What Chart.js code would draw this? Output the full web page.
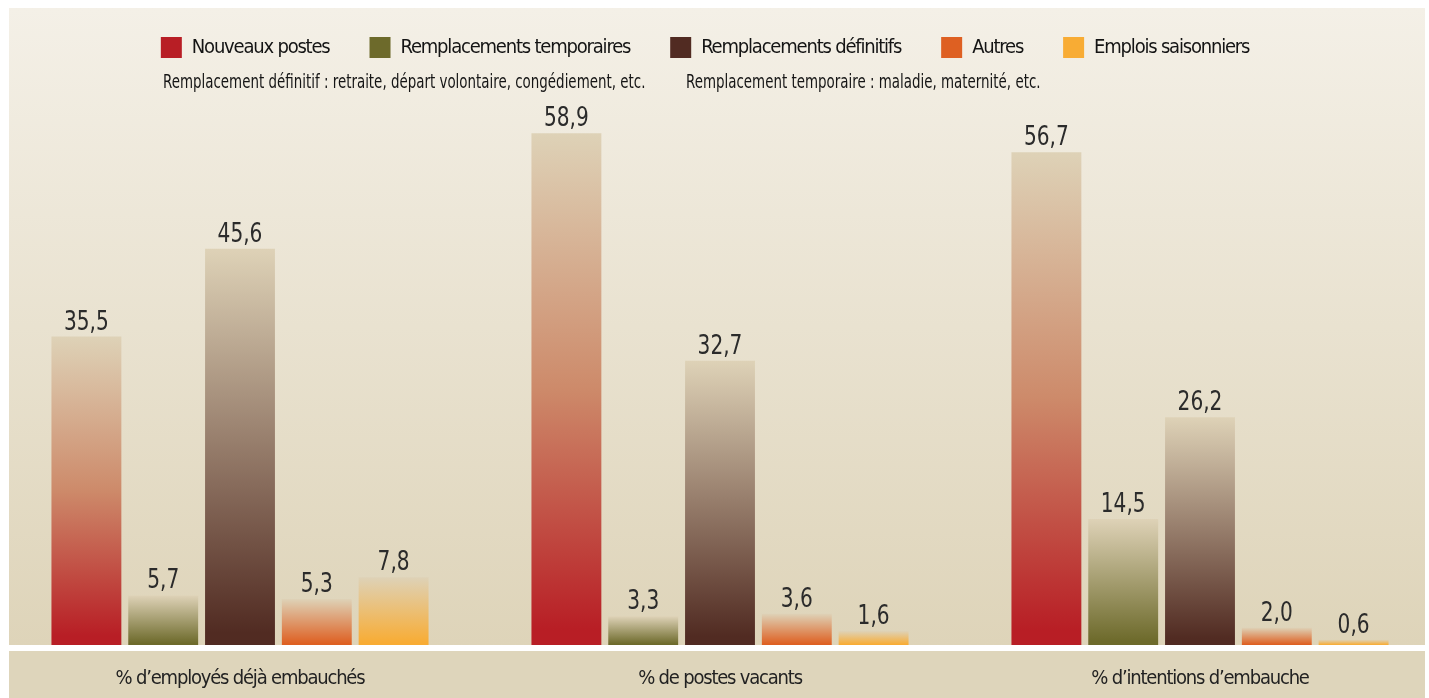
<!DOCTYPE html>
<html>
<head>
<meta charset="utf-8">
<script src="https://cdn.jsdelivr.net/npm/chart.js@4/dist/chart.umd.min.js"></script>
<style>
  html, body { margin: 0; padding: 0; background: #fff; overflow: hidden; width: 1429px; height: 698px; }
  #panel { position: absolute; left: 9px; top: 8px; width: 1416px; height: 637px; background: linear-gradient(#f4f0e7, #ded4b9); }
  #band { position: absolute; left: 9px; top: 651px; width: 1416px; height: 47px; background: #ded5bb; }
  #chart { position: absolute; left: -30px; top: -3px; }
</style>
</head>
<body>
<div id="panel"></div>
<div id="band"></div>
<canvas id="chart" width="1470" height="701"></canvas>
<script>
const FONT = "'Liberation Sans Narrow', 'DejaVu Sans Condensed', 'Arial Narrow', sans-serif";

// ---------------------------------------------
// Data
// ---------------------------------------------
const categories = ["% d’employés déjà embauchés", "% de postes vacants", "% d’intentions d’embauche"];
const seriesNames = ["Nouveaux postes", "Remplacements temporaires", "Remplacements définitifs", "Autres", "Emplois saisonniers"];
const nouveauxPostes = [35.5, 58.9, 56.7];
const remplTemporaires = [5.7, 3.3, 14.5];
const remplDefinitifs = [45.6, 32.7, 26.2];
const autres = [5.3, 3.6, 2.0];
const emploisSaisonniers = [7.8, 1.6, 0.6];
const notes = [
    "Remplacement définitif : retraite, départ volontaire, congédiement, etc.",
    "Remplacement temporaire : maladie, maternité, etc."
];

const seriesColors = ["#b81e25", "#6d6a2b", "#512b22", "#de6022", "#f8ac34"];
const midColors = ["#cd8a6a", null, null, null, null];
const topTint = "#ded2b7";

// vertical gradient per bar: beige at the top, full colour at the base
function barFill(i) {
    const color = seriesColors[i];
    return (ctx) => {
        const chart = ctx.chart;
        if (ctx.type !== "data" || !chart.chartArea) return color;
        const y = chart.scales.y;
        const top = y.getPixelForValue(ctx.raw);
        const bottom = y.getPixelForValue(0);
        if (!(bottom - top > 0)) return color;
        const g = chart.ctx.createLinearGradient(0, top, 0, bottom);
        g.addColorStop(0, topTint);
        if (midColors[i]) g.addColorStop(0.5, midColors[i]);
        g.addColorStop(0.97, color);
        g.addColorStop(1, color);
        return g;
    };
}

const allSeries = [nouveauxPostes, remplTemporaires, remplDefinitifs, autres, emploisSaisonniers];

const datasets = allSeries.map((values, i) => ({
    label: seriesNames[i],
    data: values,
    backgroundColor: barFill(i),
    borderWidth: 0,
    categoryPercentage: 0.8,
    barPercentage: 0.91
}));

// ---------------------------------------------
// Plugins
// ---------------------------------------------
// tighter letters for legend + axis labels (narrow font is not installed)
const condensedText = {
    id: "condensedText",
    beforeLayout(chart) { chart.ctx.letterSpacing = "-1.2px"; },
    beforeDraw(chart) { chart.ctx.letterSpacing = "-1.2px"; }
};

const valueLabels = {
    id: "valueLabels",
    afterDatasetsDraw(chart) {
        const ctx = chart.ctx;
        chart.data.datasets.forEach((ds, i) => {
            chart.getDatasetMeta(i).data.forEach((bar, j) => {
                const txt = ds.data[j].toFixed(1).replace(".", ",");
                ctx.save();
                ctx.letterSpacing = "0px";
                ctx.font = `26px ${FONT}`;
                ctx.fillStyle = "#2b2b2b";
                ctx.textAlign = "center";
                ctx.textBaseline = "alphabetic";
                ctx.translate(bar.x, bar.y - 7);
                ctx.scale(0.86, 1);
                ctx.fillText(txt, 0, 0);
                ctx.restore();
            });
        });
    }
};

const legendNotes = {
    id: "legendNotes",
    afterDraw(chart) {
        const ctx = chart.ctx;
        [[notes[0], 193], [notes[1], 716]].forEach(([txt, x]) => {
            ctx.save();
            ctx.letterSpacing = "0px";
            ctx.font = `19.5px ${FONT}`;
            ctx.fillStyle = "#151515";
            ctx.textBaseline = "alphabetic";
            ctx.translate(x, 91);
            ctx.scale(0.765, 1);
            ctx.fillText(txt, 0, 0);
            ctx.restore();
        });
    }
};

// ---------------------------------------------
// Chart
// ---------------------------------------------
new Chart(document.getElementById("chart"), {
    type: "bar",
    data: { labels: categories, datasets: datasets },
    options: {
        responsive: false,
        animation: false,
        events: [],
        layout: { padding: { top: 0, bottom: 6, left: 0, right: 0 } },
        plugins: {
            legend: {
                position: "top",
                labels: {
                    boxWidth: 21,
                    boxHeight: 21,
                    padding: 40,
                    color: "#141414",
                    font: { family: FONT, size: 20 },
                    generateLabels(chart) {
                        const items = Chart.defaults.plugins.legend.labels.generateLabels(chart);
                        items.forEach(it => {
                            it.fillStyle = seriesColors[it.datasetIndex];
                            it.strokeStyle = seriesColors[it.datasetIndex];
                            it.lineWidth = 0;
                        });
                        return items;
                    }
                }
            },
            tooltip: { enabled: false }
        },
        scales: {
            x: {
                grid: { display: false, drawTicks: false },
                border: { display: false },
                ticks: {
                    color: "#222",
                    padding: 22,
                    maxRotation: 0,
                    font: { family: FONT, size: 20 }
                },
                afterFit(scale) { scale.height = 47; }
            },
            y: {
                min: 0,
                max: 66.4,
                grid: { display: false, drawTicks: false },
                border: { display: false },
                ticks: { display: false },
                afterFit(scale) { scale.width = 30; }
            }
        }
    },
    plugins: [condensedText, valueLabels, legendNotes]
});
</script>
</body>
</html>
